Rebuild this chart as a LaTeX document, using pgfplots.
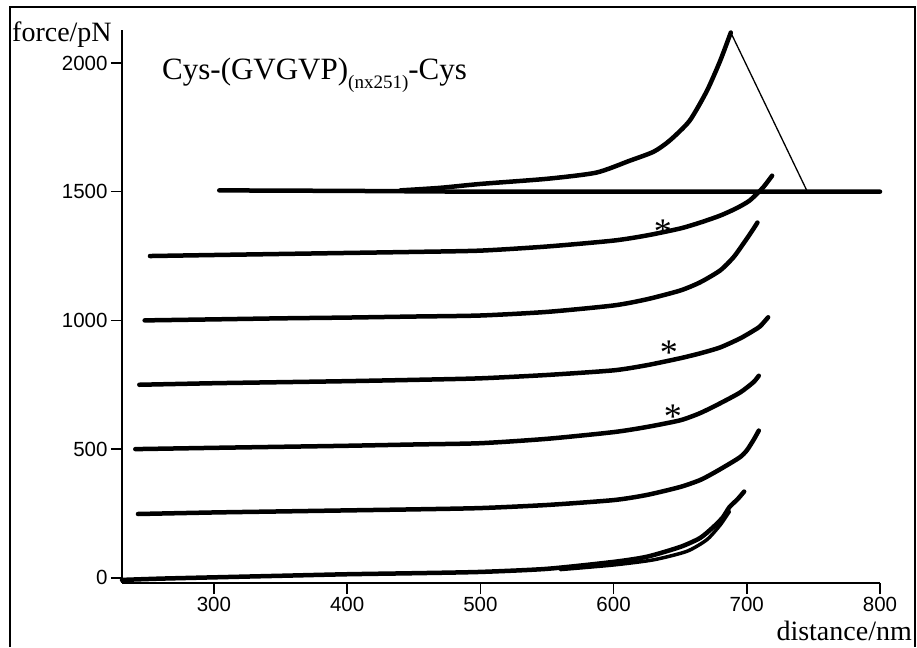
\documentclass[border=0pt]{standalone}
\usepackage{pgfplots}
\pgfplotsset{compat=1.18}
\usepackage{fontspec}
\setmainfont{Liberation Serif}
\newfontfamily\tickfont{Liberation Sans}
\tikzset{trace/.style={black, no markers, line width=4.5pt, line join=round, line cap=round, smooth, tension=0.4}}
\begin{document}
\begin{tikzpicture}
\path[use as bounding box] (-122pt,-64pt) rectangle (795pt,583pt);
\draw[line width=2pt] (-112pt,-64pt) -- (-112pt,576pt) -- (793pt,576pt) -- (793pt,-64pt);
\begin{axis}[
  at={(0pt,0pt)}, anchor=south west,
  scale only axis, width=758pt, height=553pt,
  xmin=231, xmax=800, ymin=-20, ymax=2128,
  axis lines*=left,
  axis line style={line width=1.8pt},
  xtick={300,400,500,600,700,800},
  ytick={0,500,1000,1500,2000},
  tick align=outside, major tick length=11pt,
  tick style={line width=1.5pt, black},
  xticklabel={\tickfont\fontsize{20.5}{20.5}\selectfont\pgfmathprintnumber[1000 sep={},assume math mode=true]{\tick}},
  yticklabel={\tickfont\fontsize{20.5}{20.5}\selectfont\pgfmathprintnumber[1000 sep={},assume math mode=true]{\tick}},
  clip=false,
]
% offset 0
\addplot[trace] coordinates {(231,-8) (260,-3) (300,2) (350,8) (400,14) (450,18) (500,23) (550,35) (600,62) (625,82) (650,120) (665,155) (675,198) (682,235) (687,275) (693,305) (698,335)};
\addplot[trace, line width=3.5pt] coordinates {(560,32) (600,50) (630,70) (655,103) (670,148) (680,205) (687,258)};
% offset 250
\addplot[trace] coordinates {(243,248) (300,254) (350,258) (400,262) (450,266) (500,271) (550,283) (600,302) (625,322) (650,353) (665,380) (675,407) (685,437) (695,469) (700,495) (705,535) (709,572)};
% offset 500
\addplot[trace] coordinates {(241,500) (300,505) (350,509) (400,513) (450,518) (500,523) (550,540) (600,566) (625,586) (650,612) (665,640) (680,678) (695,720) (705,760) (709,785)};
% offset 750
\addplot[trace] coordinates {(244,750) (300,756) (350,760) (400,764) (450,769) (500,775) (550,788) (600,806) (625,826) (650,853) (665,872) (680,895) (695,930) (705,960) (710,977) (716,1012)};
% offset 1000
\addplot[trace] coordinates {(248,1000) (300,1004) (350,1008) (400,1011) (450,1015) (500,1019) (550,1033) (600,1058) (625,1082) (650,1116) (665,1148) (680,1194) (690,1245) (697,1295) (703,1340) (708,1380)};
% offset 1250
\addplot[trace] coordinates {(252,1250) (300,1254) (350,1258) (400,1262) (450,1266) (500,1271) (550,1287) (600,1310) (625,1330) (650,1357) (665,1380) (680,1407) (692,1435) (702,1465) (712,1515) (719,1562)};
% offset 1500 baseline
\addplot[trace] coordinates {(304,1505) (400,1503) (500,1500) (600,1500) (700,1500) (745,1500) (800,1500)};
% offset 1500 extension
\addplot[trace] coordinates {(440,1505) (470,1515) (500,1530) (550,1550) (587,1574) (612,1620) (630,1655) (642,1698) (657,1775) (670,1891) (680,2008) (688,2118)};
\addplot[black, no markers, line width=1.3pt] coordinates {(688,2118) (745,1505)};
% asterisks
\node[font=\fontsize{36}{36}\selectfont, yshift=-5pt] at (axis cs:637,1364) {*};
\node[font=\fontsize{36}{36}\selectfont, yshift=-5pt] at (axis cs:641.6,895) {*};
\node[font=\fontsize{36}{36}\selectfont, yshift=-5pt] at (axis cs:644.6,645) {*};
\end{axis}
\node[anchor=base west, inner sep=0pt, font=\fontsize{28}{28}\selectfont] at (-110pt,541pt) {force/pN};
\node[anchor=base east, inner sep=0pt, font=\fontsize{28}{28}\selectfont] at (790pt,-57pt) {distance/nm};
\node[anchor=base west, inner sep=0pt, font=\fontsize{31}{31}\selectfont] at (40pt,503pt) {Cys-(GVGVP)\raisebox{-0.28em}{\fontsize{19}{19}\selectfont (nx251)}-Cys};
\end{tikzpicture}
\end{document}
